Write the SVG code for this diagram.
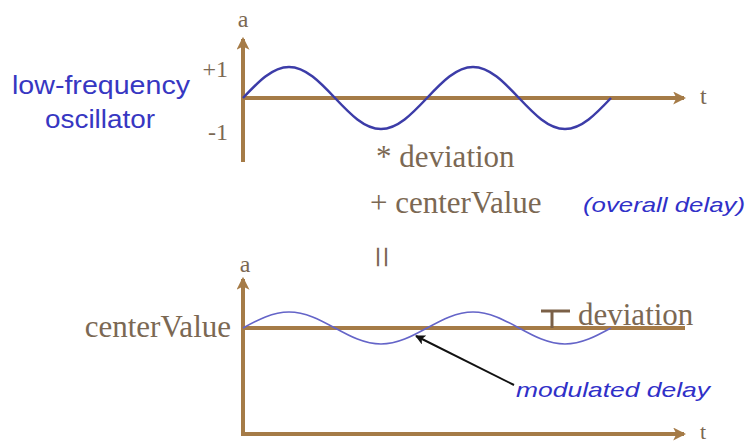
<svg xmlns="http://www.w3.org/2000/svg" width="746" height="443" viewBox="0 0 746 443">
  <style>
    .axis { stroke: #a57b47; stroke-width: 4; fill: none; }
    .serif { font-family: "Liberation Serif", "Times New Roman", serif; fill: #7b6853; }
    .small { font-size: 24px; }
    .big { font-size: 31px; }
    .blue { font-family: "Liberation Sans", Arial, sans-serif; fill: #3737c2; }
    .note { font-family: "Liberation Sans", Arial, sans-serif; fill: #3030c8; font-style: italic; }
  </style>
  <defs>
    <marker id="ax" viewBox="0 0 12 12" refX="10" refY="6" markerWidth="13" markerHeight="13" markerUnits="userSpaceOnUse" orient="auto">
      <path d="M0,0 L12,6 L0,12 L3,6 z" fill="#a57b47"/>
    </marker>
    <marker id="blk" viewBox="0 0 10 10" refX="9" refY="5" markerWidth="10" markerHeight="10" markerUnits="userSpaceOnUse" orient="auto">
      <path d="M0,0 L10,5 L0,10 L2.5,5 z" fill="#111"/>
    </marker>
  </defs>
  <rect width="746" height="443" fill="#ffffff"/>

  <g id="lfo-label">
    <text class="blue" x="101" y="94" font-size="26" text-anchor="middle" textLength="178" lengthAdjust="spacingAndGlyphs">low-frequency</text>
    <text class="blue" x="100" y="128" font-size="26" text-anchor="middle" textLength="110" lengthAdjust="spacingAndGlyphs">oscillator</text>
  </g>

  <g id="top-graph">
    <line class="axis" x1="243" y1="162" x2="243" y2="39" marker-end="url(#ax)"/>
    <line class="axis" x1="241" y1="98" x2="684" y2="98" marker-end="url(#ax)"/>
    <text class="serif small" x="243" y="27" text-anchor="middle">a</text>
    <text class="serif small" x="700" y="104">t</text>
    <text class="serif small" x="228" y="77" text-anchor="end">+1</text>
    <text class="serif small" x="228" y="140" text-anchor="end">-1</text>
    <path d="M243,98 C258,82.12 272.35,67 289,67 C305.65,67 320,82.12 335,98 C350,113.88 364.35,129 381,129 C397.65,129 412,113.88 427,98 C442,82.12 456.35,67 473,67 C489.65,67 504,82.12 519,98 C534,113.88 548.35,129 565,129 C581.65,129 596,113.88 611,98" fill="none" stroke="#3c3ca8" stroke-width="2.5"/>
  </g>

  <g id="formula">
    <text class="serif big" x="376" y="167">* deviation</text>
    <text class="serif big" x="370" y="213">+ centerValue</text>
    <text class="note" x="583" y="212" font-size="21" textLength="162" lengthAdjust="spacingAndGlyphs">(overall delay)</text>
    <text class="serif" x="381" y="257" font-size="40" text-anchor="middle" transform="rotate(90 381 257)" dy="13">=</text>
  </g>

  <g id="bottom-graph">
    <line class="axis" x1="243" y1="436" x2="243" y2="279" marker-end="url(#ax)"/>
    <line class="axis" x1="241" y1="434" x2="684" y2="434" marker-end="url(#ax)"/>
    <line class="axis" x1="243" y1="328" x2="685" y2="328"/>
    <text class="serif small" x="245" y="272" text-anchor="middle">a</text>
    <text class="serif" x="700" y="439" font-size="22">t</text>
    <text class="serif big" x="231" y="337" text-anchor="end">centerValue</text>
    <path d="M243,328 C258,319.8 272.35,312 289,312 C305.65,312 320,319.8 335,328 C350,336.2 364.35,344 381,344 C397.65,344 412,336.2 427,328 C442,319.8 456.35,312 473,312 C489.65,312 504,319.8 519,328 C534,336.2 548.35,344 565,344 C581.65,344 596,336.2 611,328" fill="none" stroke="#6464c8" stroke-width="1.6"/>
  </g>

  <g id="deviation-marker">
    <line x1="541" y1="311" x2="570" y2="311" stroke="#7b6047" stroke-width="3"/>
    <line x1="552" y1="311" x2="552" y2="328" stroke="#7b6047" stroke-width="3"/>
    <text class="serif big" x="578" y="325">deviation</text>
  </g>

  <g id="modulated-delay">
    <text class="note" x="516" y="397" font-size="21" textLength="194" lengthAdjust="spacingAndGlyphs">modulated delay</text>
  </g>

  <g id="connectors">
    <line x1="514" y1="385" x2="416" y2="336" stroke="#111" stroke-width="2" marker-end="url(#blk)"/>
  </g>
</svg>
